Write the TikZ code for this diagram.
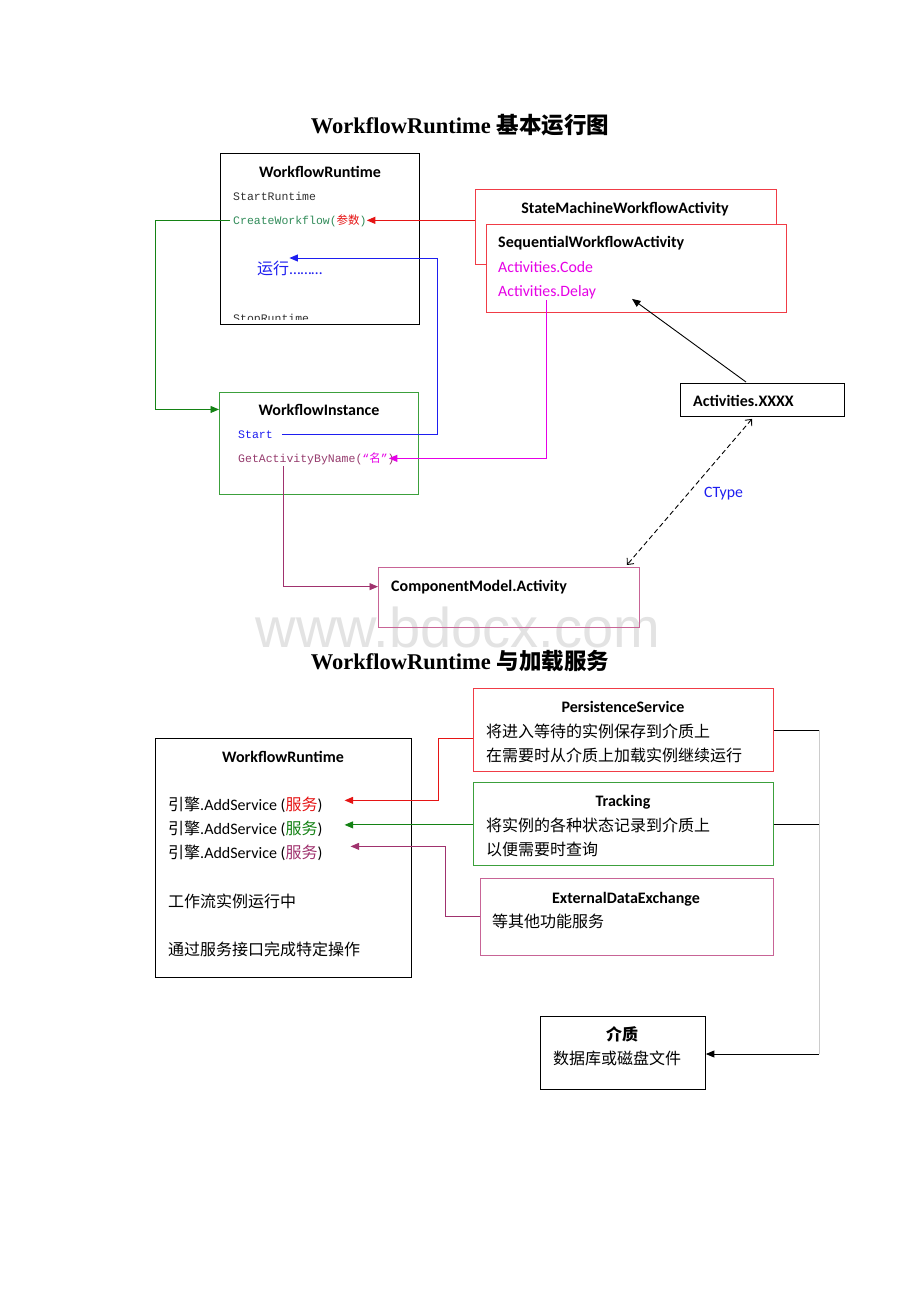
\documentclass[tikz,border=0pt]{standalone}
\usepackage{fontspec}
\setmainfont{Liberation Serif}
\newfontfamily\calf{Carlito}
\newfontfamily\cjk{Noto Sans CJK SC}
\newfontfamily\monof{Liberation Mono}
\newfontfamily\wmf{Liberation Sans}
\usetikzlibrary{arrows.meta,calc}
\definecolor{boxred}{RGB}{240,60,70}
\definecolor{arrred}{RGB}{230,20,20}
\definecolor{boxgreen}{RGB}{60,160,60}
\definecolor{arrgreen}{RGB}{20,130,20}
\definecolor{txtgreen}{RGB}{50,140,90}
\definecolor{myblue}{RGB}{30,30,240}
\definecolor{mymag}{RGB}{230,0,230}
\definecolor{arrpurple}{RGB}{160,50,110}
\definecolor{txtpurple}{RGB}{150,60,110}
\definecolor{boxpurple}{RGB}{200,100,150}
\definecolor{txtgrey}{RGB}{50,50,50}
\newcommand\calfs{\calf\fontsize{15.8}{18}\selectfont}
\newcommand\calbf{\calf\bfseries\fontsize{16}{18}\selectfont}
\newcommand\monofs{\monof\fontsize{11.5}{14}\selectfont}
\newcommand\cjkfs{\cjk\fontsize{16}{19}\selectfont}
\begin{document}
\begin{tikzpicture}[x=1pt,y=-1pt,
  box/.style={draw, inner sep=0pt, anchor=north west, line width=0.9pt},
  lab/.style={inner sep=0pt, anchor=base west},
  labc/.style={inner sep=0pt, anchor=base},
  conn/.style={line width=0.9pt},
  tri/.style={-{Triangle[length=8.5pt,width=7pt]}}]
\useasboundingbox[fill=white] (0,0) rectangle (920,1302);

% watermark
\node[text=gray!22, inner sep=0pt] (wm) at (458,627) {\wmf\fontsize{56}{58}\selectfont www.bdocx.com};

% ---------- Part 1 ----------
\node[labc] (t1) at (460,133) {\bfseries\fontsize{22.5}{26}\selectfont WorkflowRuntime {\cjk 基本运行图}};

\node[box, minimum width=199pt, minimum height=171pt] (wr1) at (220,153) {};
\node[labc] (wr1t) at (320,177) {\calbf WorkflowRuntime};
\node[lab, text=txtgrey] (sr) at (233,200) {\monofs StartRuntime};
\node[lab, text=txtgreen] (cw) at (233,224) {\monofs CreateWorkflow({\cjk\color{arrred}参数})};
\node[lab, text=myblue] (runcn) at (257,274) {\cjkfs 运行};
\node[lab, text=myblue, anchor=base west] (rundots) at (runcn.base east) {\calfs ………};
\begin{scope}
  \clip (221,154) rectangle (418,319);
  \node[lab, text=txtgrey] (stop) at (233,322) {\monofs StopRuntime};
\end{scope}

\node[box, draw=boxred, minimum width=301pt, minimum height=75pt] (sm) at (475,189) {};
\node[labc] (smt) at (625,213) {\calbf StateMachineWorkflowActivity};
\node[box, draw=boxred, fill=white, minimum width=300pt, minimum height=88pt] (sq) at (486,224) {};
\node[lab] (sqt) at (498,247) {\calbf SequentialWorkflowActivity};
\node[lab, text=mymag] (code) at (498,272) {\calfs Activities.Code};
\node[lab, text=mymag] (delay) at (498,296) {\calfs Activities.Delay};

\node[box, draw=boxgreen, minimum width=199pt, minimum height=102pt] (wi) at (219,392) {};
\node[labc] (wit) at (319,415) {\calbf WorkflowInstance};
\node[lab, text=myblue] (start) at (238,438) {\monofs Start};
\node[lab, text=txtpurple] (gab) at (238,462) {\monofs GetActivityByName({\color{mymag}“{\cjk 名}”})};

\node[box, draw=boxpurple, minimum width=261pt, minimum height=60pt] (cm) at (378,567) {};
\node[lab] (cmt) at (391,591) {\calbf ComponentModel.Activity};

\node[box, minimum width=164pt, minimum height=33pt] (xx) at (680,383) {};
\node[lab] (xxt) at (693,406) {\calbf Activities.XXXX};

\node[lab, text=myblue] (ctype) at (704,497) {\calfs CType};

% connectors part 1
\draw[conn, tri, color=arrred] (sm.west |- cw.east) -- (cw.east);
\coordinate (bc) at (437,258);
\draw[conn, tri, color=myblue] ([xshift=9pt]start.east) -| (bc) -- (runcn.east |- bc);
\draw[conn, tri, color=arrgreen] ([xshift=-3pt]cw.west) -- ++(-75,0) |- (wi.west |- wit.center);
\coordinate (mg) at (546,300);
\draw[conn, tri, color=mymag] (mg) |- ([xshift=-6pt]gab.east);
\coordinate (pp) at (283,466);
\draw[conn, tri, color=arrpurple] (pp) |- (cm.west |- cmt.center);
\draw[conn, tri] ($(xx.north west)+(66,-1)$) -- ($(sq.south west)+(146,-14)$);
\draw[conn, dash pattern=on 5pt off 3pt, {Straight Barb[length=5pt,width=9pt]}-{Straight Barb[length=5pt,width=9pt]}]
  ($(xx.south west)+(72,2)$) -- ($(cm.north east)+(-13,-2)$);

% ---------- Part 2 ----------
\node[labc] (t2) at (460,669) {\bfseries\fontsize{22.5}{26}\selectfont WorkflowRuntime {\cjk 与加载服务}};

\node[box, minimum width=256pt, minimum height=239pt] (wr2) at (155,738) {};
\node[labc] (wr2t) at (283,762) {\calbf WorkflowRuntime};
\node[lab] (as1) at (168,810) {\cjkfs 引擎{\calf .AddService (}{\color{arrred}服务}{\calf )}};
\node[lab] (as2) at (168,834) {\cjkfs 引擎{\calf .AddService (}{\color{arrgreen}服务}{\calf )}};
\node[lab] (as3) at (168,858) {\cjkfs 引擎{\calf .AddService (}{\color{arrpurple}服务}{\calf )}};
\node[lab] (run2) at (168,907) {\cjkfs 工作流实例运行中};
\node[lab] (svc) at (168,955) {\cjkfs 通过服务接口完成特定操作};

\node[box, draw=boxred, minimum width=300pt, minimum height=83pt] (ps) at (473,688) {};
\node[labc] (pst) at (623,712) {\calbf PersistenceService};
\node[lab] (psl1) at (486,737) {\cjkfs 将进入等待的实例保存到介质上};
\node[lab] (psl2) at (486,761) {\cjkfs 在需要时从介质上加载实例继续运行};

\node[box, draw=boxgreen, minimum width=300pt, minimum height=83pt] (tr) at (473,782) {};
\node[labc] (trt) at (623,806) {\calbf Tracking};
\node[lab] (trl1) at (486,831) {\cjkfs 将实例的各种状态记录到介质上};
\node[lab] (trl2) at (486,855) {\cjkfs 以便需要时查询};

\node[box, draw=boxpurple, minimum width=293pt, minimum height=77pt] (ede) at (480,878) {};
\node[labc] (edet) at (626,903) {\calbf ExternalDataExchange};
\node[lab] (edel) at (492,927) {\cjkfs 等其他功能服务};

\node[box, minimum width=165pt, minimum height=73pt] (med) at (540,1016) {};
\node[labc] (medt) at (622,1040) {\cjkfs\bfseries 介质};
\node[labc] (medl) at (617,1064) {\cjkfs 数据库或磁盘文件};

% connectors part 2
\draw[conn, tri, color=arrred] ($(ps.north west)+(0,50)$) -- ++(-35,0) |- ([xshift=22pt,yshift=4pt]as1.east);
\draw[conn, tri, color=arrgreen] (tr.west |- trl1.center) -- ([xshift=22pt]as2.east |- trl1.center);
\draw[conn, tri, color=arrpurple] ($(ede.north west)+(0,38)$) -- ++(-35,0) |- ([xshift=28pt,yshift=6pt]as3.east);
\coordinate (rt) at (819,730);
\coordinate (rb) at (819,1054);
\draw[conn, gray!40] (rt) -- (rb);
\draw[conn] (ps.east |- rt) -- (rt);
\draw[conn] (tr.east |- trl1.center) -- (rt |- trl1.center);
\draw[conn, tri] (rb) -- (med.east |- rb);
\end{tikzpicture}
\end{document}
